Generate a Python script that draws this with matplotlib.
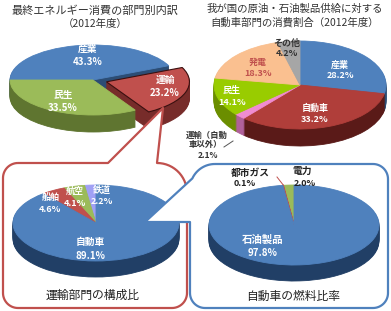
import numpy as np
import matplotlib
matplotlib.use("Agg")
import matplotlib.pyplot as plt
from matplotlib.path import Path
from matplotlib.patches import PathPatch

plt.rcParams['font.family'] = ['Noto Sans CJK JP', 'DejaVu Sans']

W, H = 391, 311
fig = plt.figure(figsize=(W / 100, H / 100), dpi=100)

# ---------------- data ----------------
p1_labels = ['産業', '運輸', '民生']
p1_values = [43.3, 23.2, 33.5]

p2_labels = ['産業', '自動車', '運輸（自動車以外）', '民生', '発電', 'その他']
p2_values = [28.2, 33.2, 2.1, 14.1, 18.3, 4.2]

p3_labels = ['鉄道', '航空', '船舶', '自動車']
p3_values = [2.2, 4.1, 4.6, 89.1]

p4_labels = ['電力', '都市ガス', '石油製品']
p4_values = [2.0, 0.1, 97.8]

# ---------------- helpers ----------------
def _pie(ax, values, colors, startangle, counterclock, explode, center):
    wedges, _ = ax.pie(values, colors=colors, startangle=startangle,
                       counterclock=counterclock, explode=explode,
                       center=center, radius=1, frame=True,
                       wedgeprops=dict(linewidth=0.6))
    for w in wedges:
        w.set_edgecolor(w.get_facecolor())
    return wedges


def pie3d(cx, cy, a, b, depth, values, tops, sides, startangle, counterclock,
          explode=None):
    ax = fig.add_axes([0, 0, 1, 1])
    ax.set_facecolor('none')
    n = int(depth)
    for k in range(n, 0, -1):
        _pie(ax, values, sides, startangle, counterclock, explode, (0, -k / b))
    wedges = _pie(ax, values, tops, startangle, counterclock, explode, (0, 0))
    ax.set_xlim(-cx / a, (W - cx) / a)
    ax.set_ylim(-(H - cy) / b, cy / b)
    ax.set_aspect('auto')
    ax.axis('off')
    return ax, wedges


def overlay():
    ax = fig.add_axes([0, 0, 1, 1])
    ax.set_facecolor('none')
    ax.set_xlim(0, W)
    ax.set_ylim(H, 0)
    ax.axis('off')
    return ax


def arc(cx, cy, r, t0, t1, n=16):
    t = np.radians(np.linspace(t0, t1, n))
    return list(zip(cx + r * np.cos(t), cy + r * np.sin(t)))


def T(x, y, s, size=7, color='white', weight='bold', ha='center', **kw):
    fig.text(x / W, 1 - y / H, s, ha=ha, va='center', fontsize=size,
             color=color, fontweight=weight, **kw)

# ---------------- pie 1 ----------------
ax1, w1 = pie3d(93, 80, 83, 35, 17, p1_values,
                ['#4F81BD', '#C0504D', '#9BBB59'],
                ['#2C4D75', '#772C2A', '#5F7530'],
                startangle=180, counterclock=False,
                explode=[0, 0.17, 0])
w1[1].set_edgecolor('#3a1010')
w1[1].set_linewidth(0.8)

# ---------------- pie 2 ----------------
ax2, w2 = pie3d(300, 85, 86, 44, 17, p2_values,
                ['#4F81BD', '#B03E3A', '#F08CD0', '#99CC00', '#FAC090', '#A6A6A6'],
                ['#2C4D75', '#5A1A18', '#B0609A', '#6B8E00', '#C09060', '#707070'],
                startangle=90, counterclock=False)

# ---------------- box 1 with pointer ----------------
axb1 = overlay()
v = [(18, 163), (108, 163), (163, 108), (157, 163)]
v += arc(157, 193, 30, -90, 0)
v += [(187, 293)]
v += arc(172, 293, 15, 0, 90)
v += [(18, 308)]
v += arc(18, 293, 15, 90, 180)
v += [(3, 178)]
v += arc(18, 178, 15, 180, 270)
axb1.add_patch(PathPatch(Path(v, closed=False), facecolor='white',
                         edgecolor='#C0504D', linewidth=1.6, joinstyle='round'))

# ---------------- pie 3 ----------------
ax3, w3 = pie3d(96, 223, 83, 38, 16, p3_values,
                ['#A0A0F5', '#9BBB59', '#C0504D', '#4F81BD'],
                ['#6868B0', '#5F7530', '#772C2A', '#213F66'],
                startangle=90, counterclock=True)

# ---------------- box 2 with pointer ----------------
axb2 = overlay()
v = [(215, 164), (373, 164)]
v += arc(373, 179, 15, -90, 0)
v += [(388, 293)]
v += arc(373, 293, 15, 0, 90)
v += [(205, 308)]
v += arc(205, 293, 15, 90, 180)
v += [(190, 222), (145, 222)]
v += arc(215, 189, 25, 205, 270)
axb2.add_patch(PathPatch(Path(v, closed=False), facecolor='white',
                         edgecolor='#4F81BD', linewidth=1.6, joinstyle='round'))

# ---------------- pie 4 ----------------
ax4, w4 = pie3d(294, 225, 85, 40, 16, p4_values,
                ['#9BBB59', '#C0504D', '#4F81BD'],
                ['#5F7530', '#772C2A', '#213F66'],
                startangle=90, counterclock=True)
w4[1].set_edgecolor('#C0504D')
w4[1].set_linewidth(1.0)

# ---------------- titles / captions ----------------
T(95, 11, '最終エネルギー消費の部門別内訳', size=8, color='#333333', weight='normal')
T(95, 24, '（2012年度）', size=7.5, color='#333333', weight='normal')
T(295, 9, '我が国の原油・石油製品供給に対する', size=7.5, color='#333333', weight='normal')
T(295, 22, '自動車部門の消費割合（2012年度）', size=7.5, color='#333333', weight='normal')
T(93, 295, '運輸部門の構成比', size=8.5, color='#222222', weight='normal')
T(293, 296, '自動車の燃料比率', size=8.5, color='#222222', weight='normal')

# ---------------- pie 1 labels ----------------
T(88, 49, p1_labels[0]); T(88, 62, f'{p1_values[0]}%')
T(63, 95, p1_labels[2]); T(63, 108, f'{p1_values[2]}%')
T(165, 80, p1_labels[1]); T(165, 93, f'{p1_values[1]}%')

# ---------------- pie 2 labels ----------------
T(287, 43, p2_labels[5], size=6.5, color='#333333')
T(287, 54, f'{p2_values[5]}%', size=6.5, color='#333333')
T(258, 62, p2_labels[4], size=6.5, color='#C0504D')
T(258, 73, f'{p2_values[4]}%', size=6.5, color='#C0504D')
T(340, 65, p2_labels[0], size=6.5); T(340, 76, f'{p2_values[0]}%', size=6.5)
T(232, 91, p2_labels[3], size=6.5); T(232, 102, f'{p2_values[3]}%', size=6.5)
T(315, 108, p2_labels[1], size=6.5); T(315, 120, f'{p2_values[1]}%', size=6.5)
T(207, 135, '運輸（自動', size=6, color='#333333')
T(205, 145, '車以外）', size=6, color='#333333')
T(208, 155, f'{p2_values[2]}%', size=6, color='#333333')
axb2.plot([224, 233], [147, 141], color='#555555', lw=0.7)

# ---------------- pie 3 labels ----------------
T(102, 190, p3_labels[0], size=6.5); T(102, 202, f'{p3_values[0]}%', size=6.5)
T(75, 191, p3_labels[1], size=6.5); T(75, 203, f'{p3_values[1]}%', size=6.5)
T(51, 197, p3_labels[2], size=6.5); T(50, 210, f'{p3_values[2]}%', size=6.5)
T(90, 242, p3_labels[3], size=7); T(90, 256, f'{p3_values[3]}%', size=7)

# ---------------- pie 4 labels ----------------
T(250, 173, p4_labels[1], size=7, color='#222222')
T(245, 184, f'{p4_values[1]}%', size=6.5, color='#222222')
T(302, 171, p4_labels[0], size=7, color='#222222')
T(305, 183, f'{p4_values[0]}%', size=6.5, color='#222222')
T(263, 240, p4_labels[2], size=7.5); T(263, 253, f'{p4_values[2]}%', size=7)
axb2.plot([277, 284], [177, 186], color='#C0504D', lw=0.7)

fig.savefig('out.png', dpi=100)
